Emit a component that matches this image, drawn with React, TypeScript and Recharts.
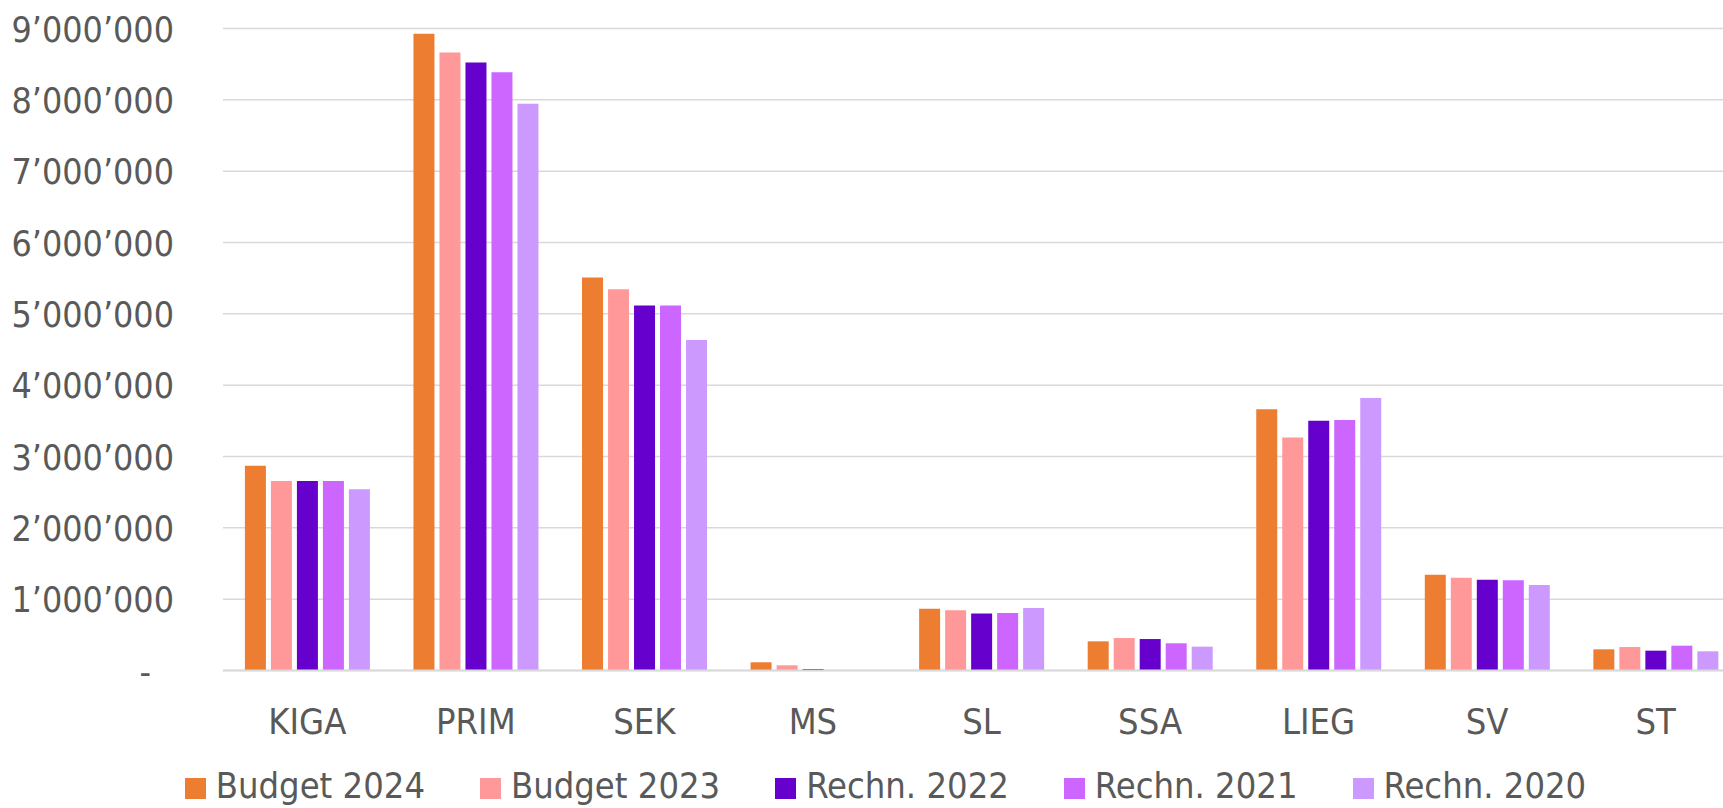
import { Bar, BarChart, CartesianGrid, Legend, XAxis, YAxis } from "recharts"

const categories = ["KIGA", "PRIM", "SEK", "MS", "SL", "SSA", "LIEG", "SV", "ST"]
const budget2024 = [2870000, 8925000, 5510000, 115000, 866000, 409000, 3661000, 1343000, 297000]
const budget2023 = [2656000, 8664000, 5343000, 73000, 843000, 455000, 3268000, 1301000, 329000]
const rechn2022 = [2656000, 8524000, 5118000, 21000, 800000, 441000, 3501000, 1273000, 278000]
const rechn2021 = [2656000, 8388000, 5118000, 0, 806000, 381000, 3511000, 1264000, 348000]
const rechn2020 = [2540000, 7944000, 4632000, 0, 876000, 334000, 3819000, 1198000, 269000]
const yTicks = [0, 1000000, 2000000, 3000000, 4000000, 5000000, 6000000, 7000000, 8000000, 9000000]

const series = [
  { key: "b2024", name: "Budget 2024", color: "#ED7D31", values: budget2024 },
  { key: "b2023", name: "Budget 2023", color: "#FF9999", values: budget2023 },
  { key: "r2022", name: "Rechn. 2022", color: "#6600CC", values: rechn2022 },
  { key: "r2021", name: "Rechn. 2021", color: "#CC66FF", values: rechn2021 },
  { key: "r2020", name: "Rechn. 2020", color: "#CC99FF", values: rechn2020 },
]

const data = categories.map((name, i) => {
  const row: Record<string, string | number> = { name }
  series.forEach((s) => {
    row[s.key] = s.values[i]
  })
  return row
})

const FONT = "'DejaVu Sans Condensed', 'Liberation Sans', sans-serif"
const TEXT = "#595959"
const GRID = "#D9D9D9"

// thousands separator is a right single quote, zero shows as a dash
const fmt = (v: number) => (v === 0 ? "-" : String(v).replace(/\B(?=(\d{3})+(?!\d))/g, "\u2019"))

function YTick(props: any) {
  const { x, y, payload } = props
  const v = payload.value as number
  return (
    <text x={v === 0 ? x - 23 : x} y={y} dy={13} textAnchor="end" fill={TEXT} fontSize={35.5} fontFamily={FONT}>
      {fmt(v)}
    </text>
  )
}

function XTick(props: any) {
  const { x, y, payload } = props
  return (
    <text x={x} y={y + 63} textAnchor="middle" fill={TEXT} fontSize={36} fontFamily={FONT}>
      {payload.value}
    </text>
  )
}

function LegendBox() {
  return (
    <div
      style={{
        display: "flex",
        justifyContent: "center",
        alignItems: "center",
        gap: 55,
        height: 40,
        fontFamily: FONT,
        fontSize: 36,
        lineHeight: 1,
        color: TEXT,
      }}
    >
      {series.map((s) => (
        <div key={s.key} style={{ display: "flex", alignItems: "center" }}>
          <span style={{ width: 21, height: 21, background: s.color, marginRight: 10, marginTop: 4 }} />
          <span>{s.name}</span>
        </div>
      ))}
    </div>
  )
}

export default function App() {
  return (
    <div
      style={{
        position: "fixed",
        left: 0,
        top: 0,
        width: 1723,
        height: 808,
        overflow: "hidden",
        background: "#fff",
      }}
    >
      <BarChart
        width={1745}
        height={808}
        data={data}
        margin={{ top: 28.5, right: 5, bottom: 37.5, left: 0 }}
        barCategoryGap="13%"
        barGap={5}
      >
        <CartesianGrid vertical={false} stroke={GRID} strokeWidth={1.5} />
        <XAxis
          dataKey="name"
          height={60}
          axisLine={{ stroke: GRID, strokeWidth: 2 }}
          tickLine={false}
          tickSize={0}
          tickMargin={0}
          tick={<XTick />}
          interval={0}
        />
        <YAxis
          width={223}
          domain={[0, 9000000]}
          ticks={yTicks}
          axisLine={false}
          tickLine={false}
          tickSize={0}
          tickMargin={49}
          tick={<YTick />}
          interval={0}
        />
        <Legend
          content={<LegendBox />}
          wrapperStyle={{ top: 766, left: 0, width: 1771, height: 40 }}
        />
        {series.map((s) => (
          <Bar key={s.key} dataKey={s.key} name={s.name} fill={s.color} isAnimationActive={false} />
        ))}
      </BarChart>
    </div>
  )
}
